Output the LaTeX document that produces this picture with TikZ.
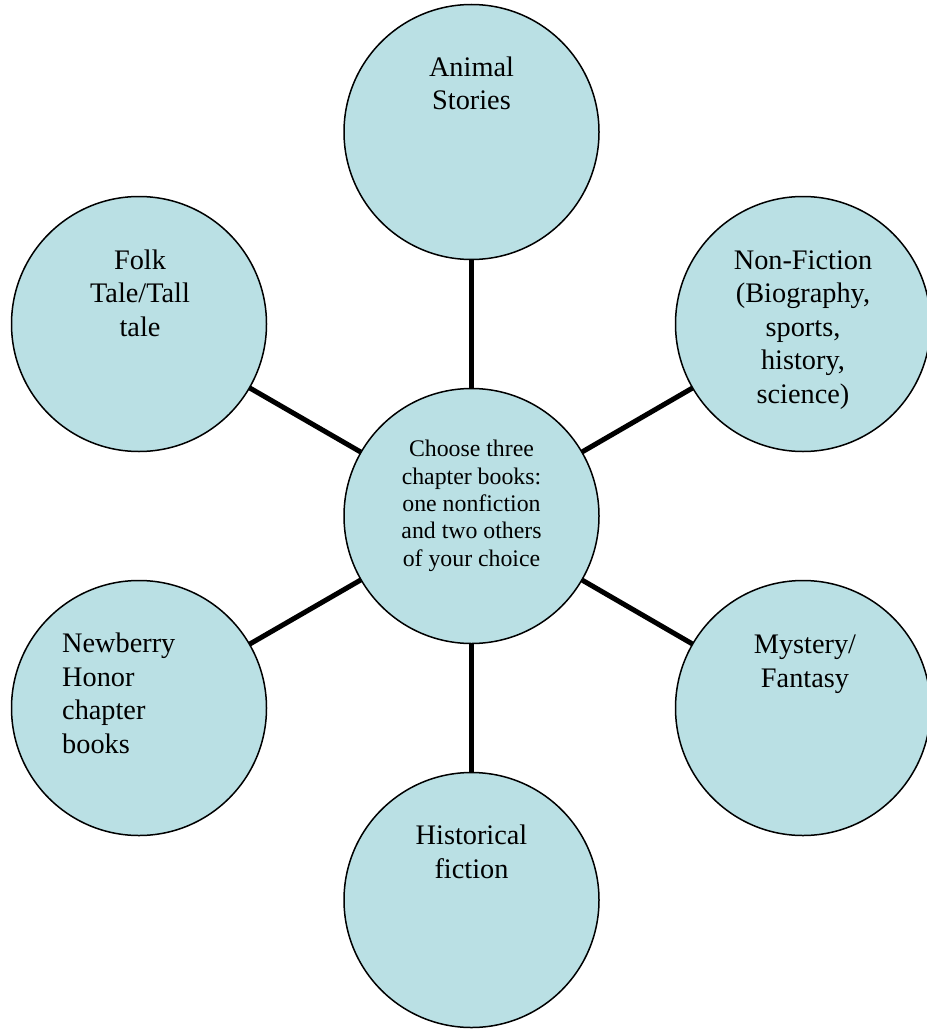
\documentclass[tikz,border=0pt]{standalone}
\usepackage{fontspec}
\setmainfont{Liberation Serif}
\definecolor{bubble}{RGB}{186,224,228}
\begin{document}
\begin{tikzpicture}[x=1pt,y=-1pt,
  bubblebox/.style={circle,draw=black,line width=1.5pt,fill=bubble,minimum size=255pt,inner sep=0pt,outer sep=0pt},
  link/.style={line width=5pt,draw=black},
  bigtext/.style={font=\fontsize{28.3}{33.4}\selectfont,inner sep=0pt,align=center,anchor=base},
  smalltext/.style={font=\fontsize{23.8}{27.3}\selectfont,inner sep=0pt,align=center,anchor=base}]
\useasboundingbox (0,0) rectangle (926,1030);
\coordinate (pc) at (471.5,516);
\coordinate (pa) at (471.5,132);
\coordinate (pf) at (139,324);
\coordinate (pn) at (803,324);
\coordinate (pw) at (139,708);
\coordinate (pm) at (803,708);
\coordinate (ph) at (471.5,900);
\node[bubblebox] (ctr) at (pc) {};
\node[bubblebox] (animal) at (pa) {};
\node[bubblebox] (folk) at (pf) {};
\node[bubblebox] (nonfic) at (pn) {};
\node[bubblebox] (newb) at (pw) {};
\node[bubblebox] (myst) at (pm) {};
\node[bubblebox] (hist) at (ph) {};
\draw[link] (ctr) -- (animal);
\draw[link] (ctr) -- (folk);
\draw[link] (ctr) -- (nonfic);
\draw[link] (ctr) -- (newb);
\draw[link] (ctr) -- (myst);
\draw[link] (ctr) -- (hist);
\node[bigtext] (tanimal) at (471.5,110) {Animal\\Stories};
\node[bigtext] (tfolk) at (140,336) {Folk\\Tale/Tall\\tale};
\node[bigtext] (tnonfic) at (803,403) {Non-Fiction\\(Biography,\\sports,\\history,\\science)};
\node[smalltext] (tctr) at (471.5,566) {Choose three\\chapter books:\\one nonfiction\\and two others\\of your choice};
\node[bigtext,align=left,anchor=base west] (tnewb) at (62,753) {Newberry\\Honor\\chapter\\books};
\node[bigtext] (tmyst) at (805,687) {Mystery/\\Fantasy};
\node[bigtext] (thist) at (471.5,878) {Historical\\fiction};
\end{tikzpicture}
\end{document}
